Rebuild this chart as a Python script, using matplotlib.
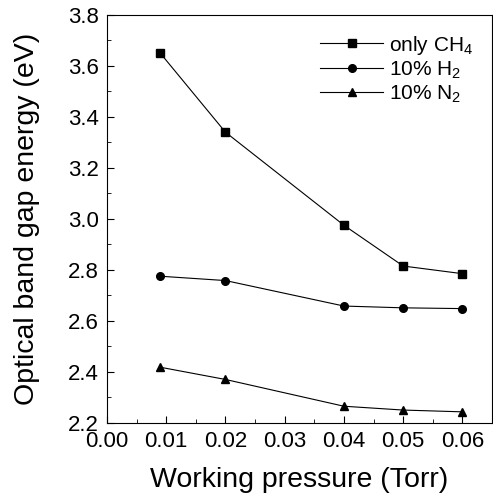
import matplotlib.pyplot as plt
from matplotlib.ticker import MultipleLocator

plt.rcParams['font.family'] = ['Liberation Sans', 'DejaVu Sans']
plt.rcParams['mathtext.fontset'] = 'custom'
plt.rcParams['mathtext.rm'] = 'Liberation Sans'

# Working pressure (Torr)
pressure = [0.009, 0.02, 0.04, 0.05, 0.06]

# Optical band gap energy (eV)
only_ch4 = [3.65, 3.34, 2.975, 2.815, 2.785]
h2_10 = [2.775, 2.758, 2.658, 2.651, 2.648]
n2_10 = [2.418, 2.37, 2.265, 2.25, 2.243]

labels = ['only CH$_4$', '10% H$_2$', '10% N$_2$']

fig = plt.figure(figsize=(4.93, 4.98), dpi=100)
ax = fig.add_axes([0.217, 0.151, 0.781, 0.819])

ax.plot(pressure, only_ch4, '-s', color='black', lw=0.8, ms=5.5, label=labels[0])
ax.plot(pressure, h2_10, '-o', color='black', lw=0.8, ms=5.5, label=labels[1])
ax.plot(pressure, n2_10, '-^', color='black', lw=0.8, ms=5.5, label=labels[2])

ax.set_xlim(0, 0.065)
ax.set_ylim(2.2, 3.8)
ax.xaxis.set_major_locator(MultipleLocator(0.01))
ax.xaxis.set_minor_locator(MultipleLocator(0.005))
ax.yaxis.set_major_locator(MultipleLocator(0.2))
ax.yaxis.set_minor_locator(MultipleLocator(0.1))
ax.xaxis.set_major_formatter(plt.FormatStrFormatter('%.2f'))
ax.yaxis.set_major_formatter(plt.FormatStrFormatter('%.1f'))

ax.tick_params(which='both', direction='in', labelsize=16)
ax.tick_params(which='major', length=5)
ax.tick_params(which='minor', length=3)
ax.tick_params(axis='x', pad=6)
ax.tick_params(axis='y', pad=6)

ax.set_xlabel('Working pressure (Torr)', fontsize=20.5, labelpad=11)
ax.set_ylabel('Optical band gap energy (eV)', fontsize=20.5, labelpad=20)

ax.legend(loc='upper right', frameon=False, fontsize=15, handlelength=3.0,
          handletextpad=0.3, labelspacing=0.12, borderaxespad=0.5)

plt.savefig('out.png', dpi=100)
